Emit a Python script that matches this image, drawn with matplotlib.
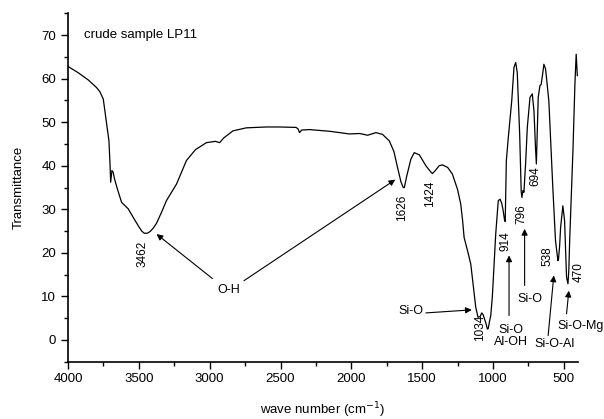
import matplotlib
matplotlib.use('Agg')
from matplotlib import pyplot as plt
from matplotlib.ticker import MultipleLocator

plt.rcParams['font.family'] = ['Liberation Sans', 'DejaVu Sans']

# spectrum (wavenumber, transmittance)
wavenumber = [4000, 3930, 3857, 3800, 3775, 3751, 3727, 3711, 3703, 3699, 3690, 3681, 3672,
              3650, 3622, 3575, 3530, 3500, 3480, 3462, 3440, 3420, 3400, 3375, 3340, 3305,
              3234, 3164, 3100, 3023, 2960, 2930, 2900, 2836, 2742, 2600, 2507, 2390, 2375,
              2366, 2350, 2296, 2150, 2014, 1940, 1885, 1826, 1780, 1732, 1700, 1674, 1650,
              1634, 1626, 1610, 1580, 1556, 1520, 1474, 1440, 1428, 1410, 1380, 1357, 1320,
              1287, 1250, 1228, 1215, 1204, 1180, 1157, 1122, 1106, 1090, 1080, 1070, 1064,
              1050, 1040, 1034, 1025, 1016, 1005, 981, 963, 950, 939, 930, 918, 914, 906, 892,
              868, 852, 840, 829, 812, 801, 796, 789, 782, 770, 758, 739, 723, 711, 700, 694,
              690, 681, 669, 660, 650, 641, 629, 606, 578, 559, 542, 538, 530, 523, 507, 495,
              481, 471, 465, 459, 448, 436, 422, 413, 405]
transmittance = [62.8, 61.4, 59.7, 58.0, 57.0, 55.3, 49.6, 45.7, 40.0, 36.2, 38.9, 38.5, 37.0,
                 34.5, 31.6, 30.1, 27.6, 26.0, 25.0, 24.5, 24.5, 24.9, 25.6, 26.8, 29.3, 32.0,
                 35.8, 41.2, 43.7, 45.3, 45.6, 45.3, 46.4, 48.0, 48.7, 48.9, 48.9, 48.8, 48.4,
                 47.6, 48.2, 48.3, 47.9, 47.3, 47.4, 47.0, 47.6, 47.2, 45.7, 43.3, 39.6, 36.3,
                 35.0, 35.0, 37.5, 41.5, 43.0, 42.5, 40.0, 38.6, 38.2, 38.8, 40.0, 40.2, 39.6,
                 38.1, 34.5, 31.2, 27.5, 23.5, 20.5, 17.4, 7.5, 5.2, 5.4, 6.2, 5.8, 5.2,
                 3.8, 2.5, 2.6, 4.2, 5.6, 9.8, 24.3, 32.0, 32.3, 31.4, 30.0, 27.4, 27.2, 41.2, 46.5,
                 54.9, 62.6, 63.7, 61.4, 47.3, 34.0, 32.7, 34.3, 33.9, 40.5, 48.8, 55.7, 56.5, 52.6,
                 44.0, 40.4, 45.0, 55.7, 58.4, 58.7, 61.0, 63.3, 62.2, 54.9, 35.0, 22.8, 18.2,
                 18.5, 21.5, 25.8, 30.8, 27.4, 14.4, 12.9, 16.0, 22.8, 32.7, 43.4, 58.7, 65.6, 60.7]

peak_pos = [3462, 1626, 1424, 1034, 914, 796, 694, 538, 470]
peak_xy = [(3474, 19.8), (1643, 30.4), (1444, 33.5), (1094, 2.8), (911, 22.8),
           (798, 28.9), (704, 37.7), (618, 19.3), (395, 15.5)]

fig = plt.figure(figsize=(6.04, 4.19), dpi=100)
ax = fig.add_axes([0.1126, 0.1368, 0.8444, 0.8314])
ax.plot(wavenumber, transmittance, color='black', lw=0.9)

ax.set_xlim(4000, 400)
ax.set_ylim(-5, 75)
ax.xaxis.set_major_locator(MultipleLocator(500))
ax.xaxis.set_minor_locator(MultipleLocator(250))
ax.yaxis.set_major_locator(MultipleLocator(10))
ax.yaxis.set_minor_locator(MultipleLocator(5))
ax.set_yticks(range(0, 71, 10))
ax.tick_params(which='both', direction='out', labelsize=9.5, width=1)
ax.tick_params(which='major', length=5)
ax.tick_params(which='minor', length=3)
for s in ['top', 'right']:
    ax.spines[s].set_visible(False)
ax.spines['left'].set_linewidth(1.2)
ax.spines['bottom'].set_linewidth(1.2)

ax.set_xlabel('wave number (cm$^{-1}$)', fontsize=9.5, labelpad=11)
ax.set_ylabel('Transmittance', fontsize=9.5, labelpad=12)

ax.text(3890, 70, 'crude sample LP11', fontsize=9.5, va='center', ha='left')

for p, (tx, ty) in zip(peak_pos, peak_xy):
    ax.text(tx, ty, str(p), rotation=90, fontsize=8.5, ha='center', va='center', clip_on=False)

arr = dict(arrowstyle='-|>', color='black', lw=0.8, mutation_scale=9, shrinkA=0, shrinkB=0)

ax.text(2864, 11.5, 'O-H', fontsize=9, ha='center', va='center')
ax.annotate('', xy=(3375, 24.3), xytext=(2981, 14.1), arrowprops=arr)
ax.annotate('', xy=(1690, 36.8), xytext=(2758, 13.6), arrowprops=arr)

ax.text(1580, 6.7, 'Si-O', fontsize=9, ha='center', va='center')
ax.annotate('', xy=(1150, 6.9), xytext=(1474, 6.2), arrowprops=arr)

ax.text(875, 0.9, 'Si-O\nAl-OH', fontsize=9, ha='center', va='center', linespacing=1.0)
ax.annotate('', xy=(887, 19.4), xytext=(887, 5.6), arrowprops=arr)

ax.text(739, 9.5, 'Si-O', fontsize=9, ha='center', va='center')
ax.annotate('', xy=(777, 25.5), xytext=(777, 12.5), arrowprops=arr)

ax.text(563, -0.9, 'Si-O-Al', fontsize=9, ha='center', va='center')
ax.annotate('', xy=(571, 14.8), xytext=(611, 1.0), arrowprops=arr)

ax.text(383, 3.3, 'Si-O-Mg', fontsize=9, ha='center', va='center', clip_on=False)
ax.annotate('', xy=(465, 11.3), xytext=(481, 6.0), arrowprops=arr)

fig.savefig('out.png', dpi=100)
